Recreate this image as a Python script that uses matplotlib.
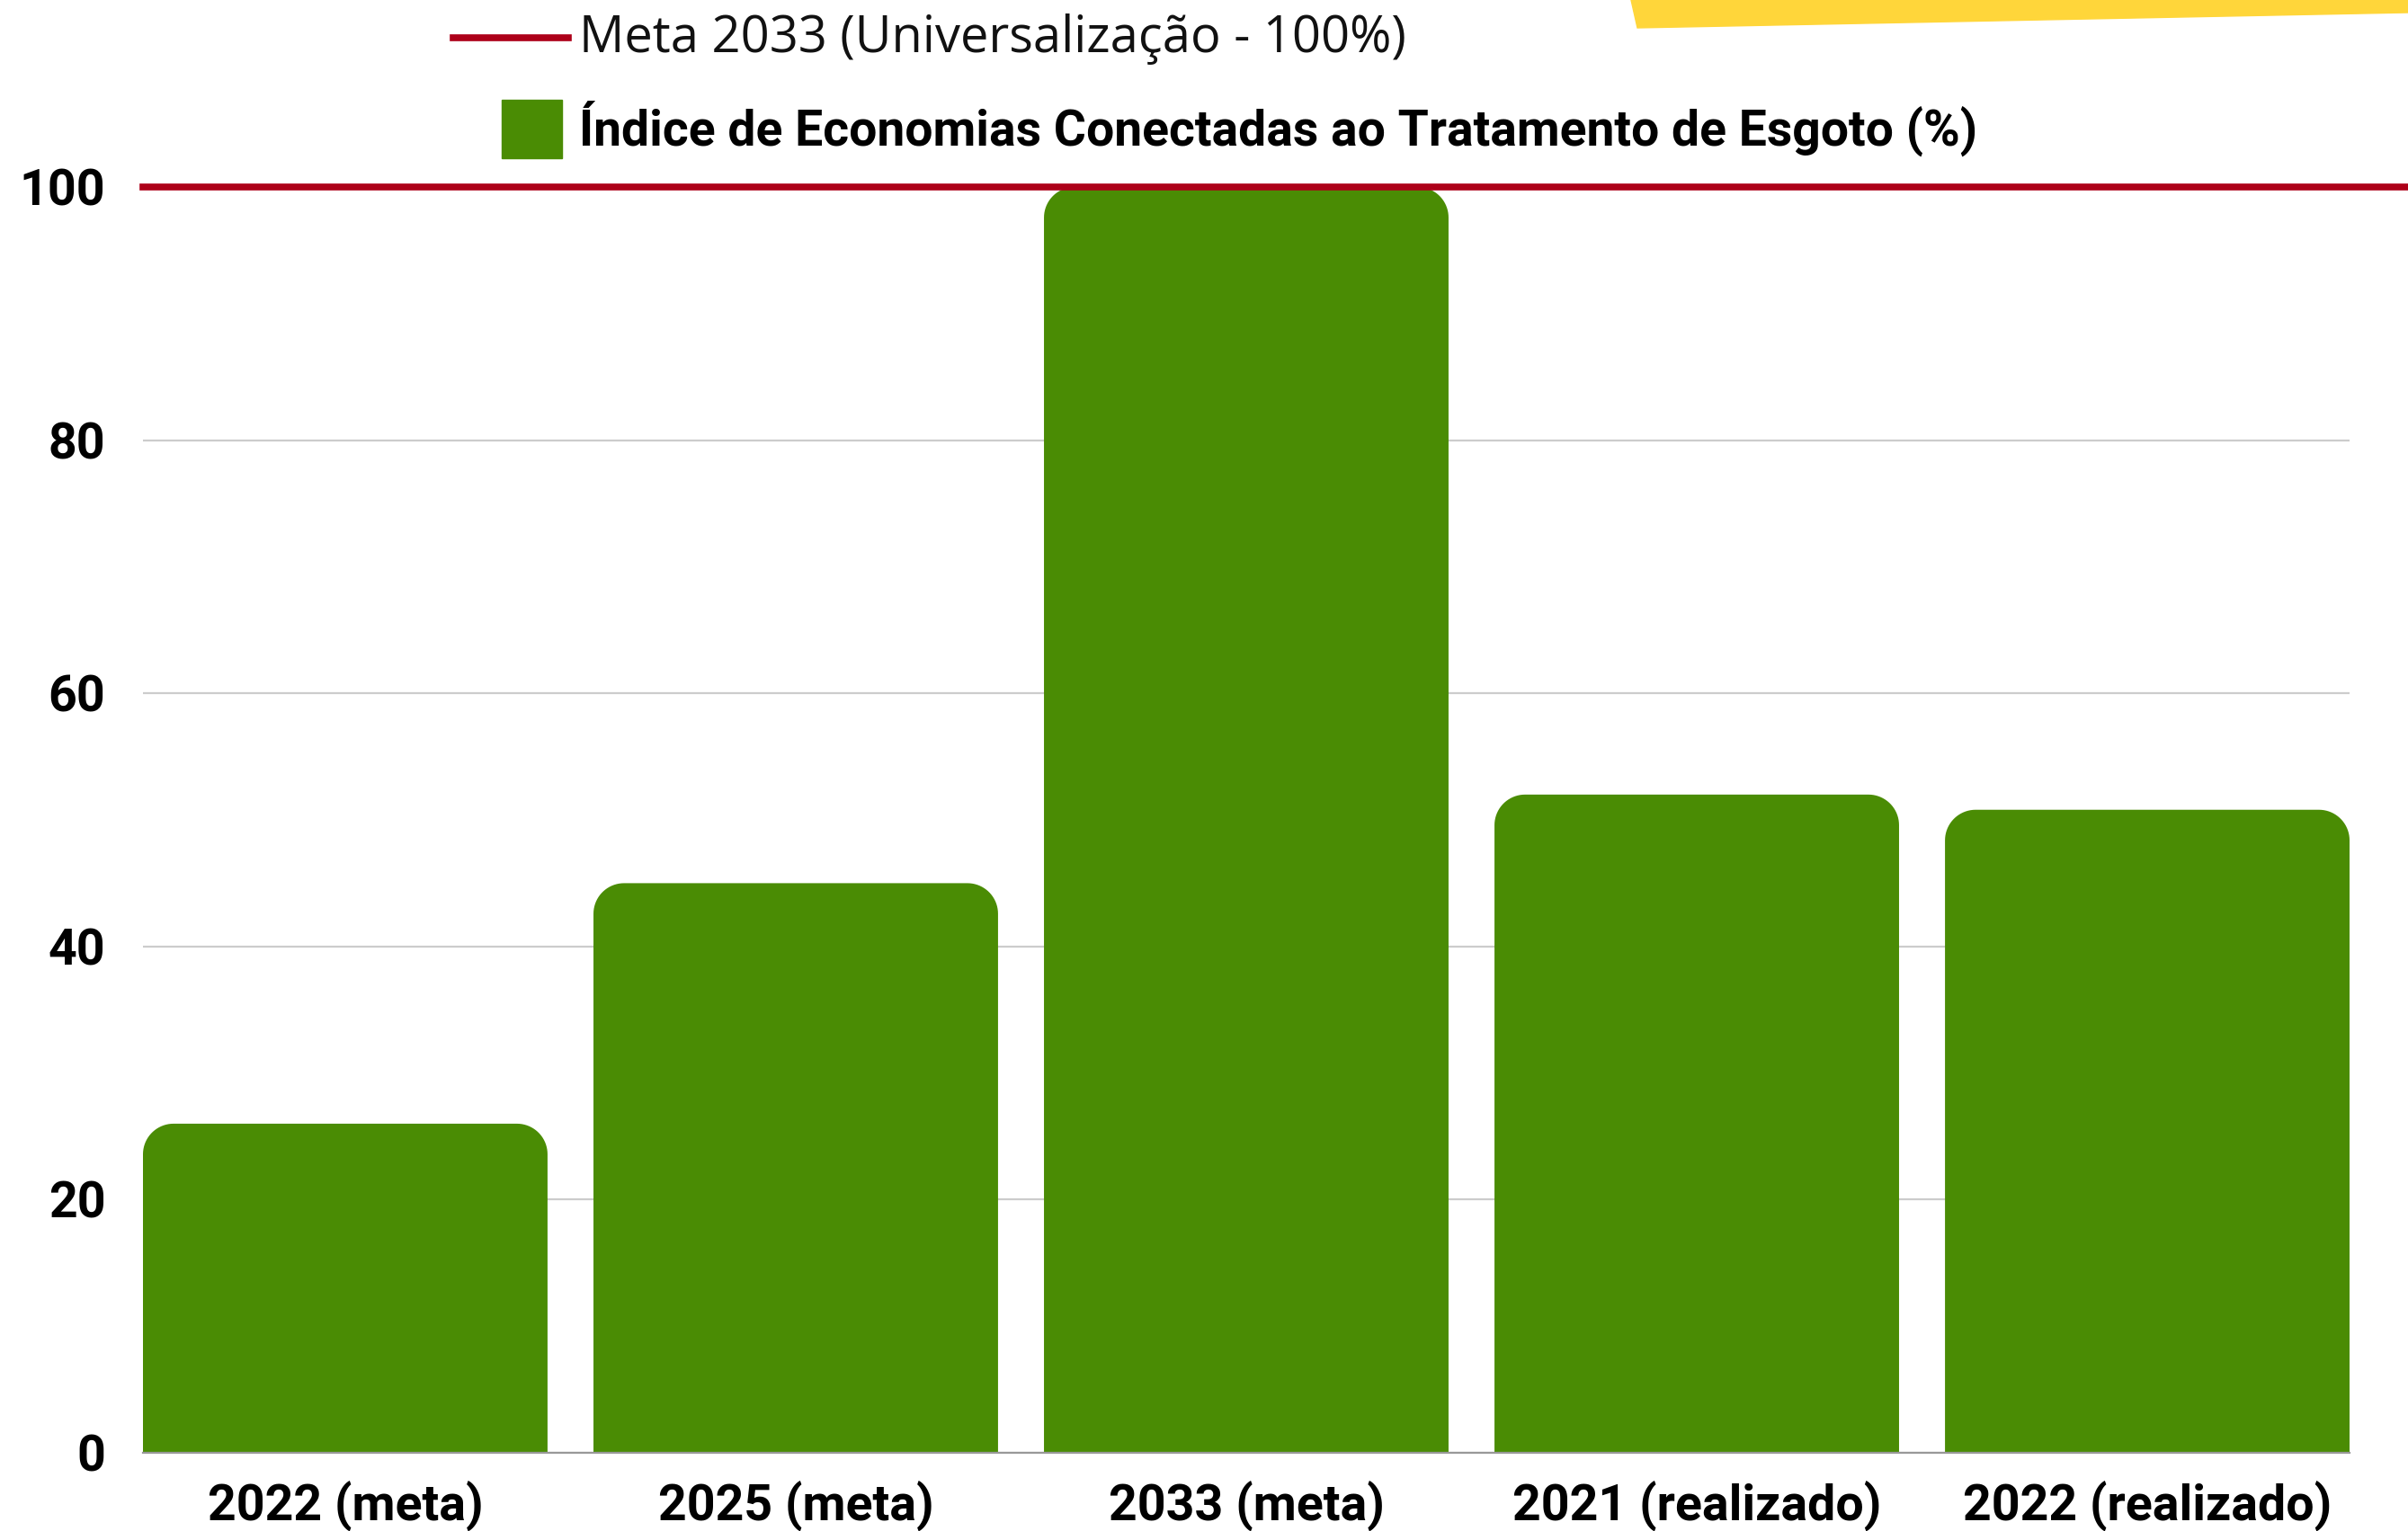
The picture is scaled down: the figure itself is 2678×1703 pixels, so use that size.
import matplotlib.pyplot as plt
import numpy as np
from matplotlib.path import Path
from matplotlib.patches import PathPatch, Polygon, Rectangle
from matplotlib.lines import Line2D

plt.rcParams['font.family'] = ['Roboto', 'DejaVu Sans']

categories = ['2022 (meta)', '2025 (meta)', '2033 (meta)', '2021 (realizado)', '2022 (realizado)']
values = [26, 45, 100, 52, 50.8]
meta_2033 = 100
yticks = [0, 20, 40, 60, 80, 100]

green = '#4a8c04'
red = '#ad0019'

W, H = 2678, 1703
fig = plt.figure(figsize=(W / 100, H / 100), dpi=100)
ax = fig.add_axes([159 / W, 1 - 1616 / H, (2613 - 159) / W, (1616 - 208) / H])

x = np.arange(len(categories))
bw = 0.898
bars = ax.bar(x, values, width=bw, color=green, zorder=2)
ax.set_xlim(-bw / 2, len(categories) - 1 + bw / 2)
ax.set_ylim(0, 100)


def rounded_top(x0, w, h, rx, ry, n=20):
    # bar outline with rounded top corners
    pts = [(x0, 0), (x0, h - ry)]
    for t in np.linspace(np.pi, np.pi / 2, n):
        pts.append((x0 + rx + rx * np.cos(t), h - ry + ry * np.sin(t)))
    for t in np.linspace(np.pi / 2, 0, n):
        pts.append((x0 + w - rx + rx * np.cos(t), h - ry + ry * np.sin(t)))
    pts += [(x0 + w, 0), (x0, 0)]
    return Path(pts)


r_px = 34
ax_w = (2613 - 159)
ax_h = (1616 - 208)
rx = r_px * (ax.get_xlim()[1] - ax.get_xlim()[0]) / ax_w
ry = r_px * 100 / ax_h
for b in bars:
    p = PathPatch(rounded_top(b.get_x(), b.get_width(), b.get_height(), rx, ry),
                  facecolor=green, edgecolor='none', zorder=2)
    ax.add_patch(p)
    b.remove()

# target line, runs past the plot to the right edge
ax.axhline(meta_2033, xmin=0, xmax=(W - 159) / ax_w, color=red, lw=5.5,
           zorder=4, clip_on=False)

ax.set_yticks(yticks)
ax.grid(axis='y', color='#cccccc', lw=1.6, zorder=0)
for s in ['top', 'right', 'left']:
    ax.spines[s].set_visible(False)
ax.spines['bottom'].set_color('#999999')
ax.spines['bottom'].set_linewidth(1.6)
ax.spines['bottom'].set_zorder(3)

ax.set_xticks(x)
ax.set_xticklabels(categories)
ax.tick_params(axis='both', length=0, labelsize=40)
ax.tick_params(axis='x', pad=22)
ax.tick_params(axis='y', pad=30)
for lab in ax.get_xticklabels() + ax.get_yticklabels():
    lab.set_fontweight('bold')
    lab.set_color('black')

# legend, drawn by hand
fig.add_artist(Line2D([504 / W, 632 / W], [1 - 42 / H] * 2, color=red, lw=5.5,
                      transform=fig.transFigure))
fig.text(644 / W, 1 - 44 / H, 'Meta 2033 (Universalização - 100%)', fontsize=40.3,
         family=['Open Sans', 'DejaVu Sans'], va='center', ha='left', color='#111111')
fig.add_artist(Rectangle((558 / W, 1 - 176 / H), 67 / W, 65 / H, color=green,
                         transform=fig.transFigure))
fig.text(644 / W, 1 - 143 / H, 'Índice de Economias Conectadas ao Tratamento de Esgoto (%)',
         fontsize=39.8, fontweight='bold', va='center', ha='left', color='black')

# yellow decoration in the top right corner
fig.add_artist(Polygon([(1814 / W, 1), (1821 / W, 1 - 31 / H), (1, 1 - 14 / H), (1, 1)],
                       closed=True, color='#ffd63a', transform=fig.transFigure))

fig.savefig('out.png', dpi=100)
